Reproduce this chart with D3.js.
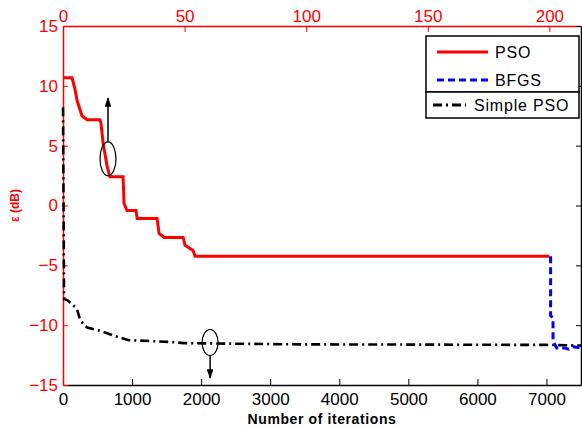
<!DOCTYPE html>
<html>
<head>
<meta charset="utf-8">
<script src="https://cdn.jsdelivr.net/npm/d3@7"></script>
<style>
  body { margin: 0; background: #fff; }
  text { font-family: "Liberation Sans", Arial, sans-serif; }
</style>
</head>
<body>
<svg id="chart" width="582" height="429"></svg>
<script>
// PSO error, plotted on the top (PSO iteration) axis
const psoIter = [0, 3.7, 4.9, 5.8, 7.8, 9.9, 15.2, 15.6, 16.5, 18.1, 19.3, 24.7, 25.1, 26.3, 30.0, 30.5, 38.7, 39.5, 41.6, 49.4, 50.2, 53.5, 54.3, 200];
const psoErr  = [10.67, 10.67, 9.75, 8.75, 7.5, 7.17, 7.17, 6.9, 5.2, 3.3, 2.4, 2.4, 0.17, -0.42, -0.42, -1.08, -1.08, -2.33, -2.67, -2.67, -3.33, -3.75, -4.25, -4.25];

// BFGS refinement after the 200 PSO iterations (top axis units)
const bfgsIter = [200.5, 200.5, 201.5, 201.5, 203, 206, 208, 210, 213];
const bfgsErr  = [-4.25, -9.2, -9.4, -11.3, -11.9, -11.9, -12.0, -11.8, -11.9];

// Simple PSO, plotted on the bottom (number of iterations) axis
const simpleIter = [0, 15, 60, 200, 250, 350, 550, 800, 950, 1550, 1750, 3300, 7000, 7500];
const simpleErr  = [8.2, -7.8, -7.9, -8.6, -9.6, -10.2, -10.5, -11.0, -11.25, -11.4, -11.5, -11.6, -11.65, -11.7];

// tick labels
const bottomTicks = [0, 1000, 2000, 3000, 4000, 5000, 6000, 7000];
const topTicks = [0, 50, 100, 150, 200];
const yTicks = [-15, -10, -5, 0, 5, 10, 15];

// legend
const legendNames = ["PSO", "BFGS", "Simple PSO"];

// annotation ellipses
const markTop = [18.5, 3.9];        // on top axis scale
const markBottom = [2130, -11.45];  // on bottom axis scale

const mLeft = 63, mRight = 581, mTop = 26, mBottom = 385;

const svg = d3.select("#chart");

const xBottom = d3.scaleLinear().domain([0, 7500]).range([mLeft, mRight]);
const xTop = d3.scaleLinear().domain([0, 213]).range([mLeft, mRight]);
const y = d3.scaleLinear().domain([-15, 15]).range([mBottom, mTop]);

svg.append("defs").append("marker")
  .attr("id", "head")
  .attr("viewBox", "0 0 10 7")
  .attr("refX", 9).attr("refY", 3.5)
  .attr("markerWidth", 6.5).attr("markerHeight", 4.5)
  .attr("markerUnits", "strokeWidth")
  .attr("orient", "auto")
  .append("path").attr("d", "M0,0 L10,3.5 L0,7 z").attr("fill", "#000");

// axes
const fontSize = "17px";
const fmt = d3.format("d");

svg.append("g")
  .attr("transform", "translate(0," + mBottom + ")")
  .attr("color", "#000")
  .call(d3.axisBottom(xBottom).tickValues(bottomTicks).tickFormat(fmt).tickSizeInner(-6).tickSizeOuter(0).tickPadding(8))
  .call(g => g.selectAll("text").attr("font-size", fontSize).attr("font-family", null));

svg.append("g")
  .attr("transform", "translate(0," + mTop + ")")
  .attr("color", "#f00")
  .call(d3.axisTop(xTop).tickValues(topTicks).tickFormat(fmt).tickSizeInner(-6).tickSizeOuter(0).tickPadding(4))
  .call(g => g.selectAll("text").attr("font-size", fontSize).attr("font-family", null));

svg.append("g")
  .attr("transform", "translate(" + mLeft + ",0)")
  .attr("color", "#f00")
  .call(d3.axisLeft(y).tickValues(yTicks).tickFormat(fmt).tickSizeInner(-5).tickSizeOuter(0).tickPadding(5))
  .call(g => g.selectAll("text").attr("font-size", fontSize).attr("font-family", null));

svg.append("g")
  .attr("transform", "translate(" + mRight + ",0)")
  .attr("color", "#000")
  .call(d3.axisRight(y).tickValues(yTicks).tickSizeInner(-5).tickSizeOuter(0).tickFormat(""));

svg.selectAll(".domain").attr("stroke-width", 1.5);

// curves
const lineTop = d3.line().x(d => xTop(d[0])).y(d => y(d[1]));
const lineBottom = d3.line().x(d => xBottom(d[0])).y(d => y(d[1]));

svg.append("path")
  .datum(simpleIter.map((v, i) => [v, simpleErr[i]]))
  .attr("d", lineBottom)
  .attr("fill", "none").attr("stroke", "#000")
  .attr("stroke-width", 2.6).attr("stroke-dasharray", "9,4,2,4");

svg.append("path")
  .datum(psoIter.map((v, i) => [v, psoErr[i]]))
  .attr("d", lineTop)
  .attr("fill", "none").attr("stroke", "#f00")
  .attr("stroke-width", 3).attr("stroke-linejoin", "miter");

svg.append("path")
  .datum(bfgsIter.map((v, i) => [v, bfgsErr[i]]))
  .attr("d", lineTop)
  .attr("fill", "none").attr("stroke", "#00f")
  .attr("stroke-width", 3).attr("stroke-dasharray", "7,4");

// annotations: ellipse + arrow pointing to the axis that applies
const cx1 = xTop(markTop[0]), cy1 = y(markTop[1]);
svg.append("ellipse").attr("cx", cx1).attr("cy", cy1).attr("rx", 8).attr("ry", 17)
  .attr("fill", "none").attr("stroke", "#000").attr("stroke-width", 1.2);
svg.append("line").attr("x1", cx1).attr("y1", cy1 - 17).attr("x2", cx1).attr("y2", 98)
  .attr("stroke", "#000").attr("stroke-width", 1.5).attr("marker-end", "url(#head)");

const cx2 = xBottom(markBottom[0]), cy2 = y(markBottom[1]);
svg.append("ellipse").attr("cx", cx2).attr("cy", cy2).attr("rx", 8).attr("ry", 13)
  .attr("fill", "none").attr("stroke", "#000").attr("stroke-width", 1.2);
svg.append("line").attr("x1", cx2).attr("y1", cy2 + 13).attr("x2", cx2).attr("y2", 378)
  .attr("stroke", "#000").attr("stroke-width", 1.5).attr("marker-end", "url(#head)");

// axis titles
svg.append("text")
  .attr("transform", "translate(19," + y(0) + ") rotate(-90)")
  .attr("text-anchor", "middle")
  .attr("font-size", "12px").attr("font-weight", "bold").attr("fill", "#f00")
  .text("ε (dB)");

svg.append("text")
  .attr("x", (mLeft + mRight) / 2).attr("y", 424)
  .attr("text-anchor", "middle")
  .attr("font-size", "14px").attr("font-weight", "bold").attr("fill", "#000")
  .attr("letter-spacing", "0.6px")
  .text("Number of iterations");

// legend: two stacked boxes as in the original figure
const lg = svg.append("g");
lg.append("rect").attr("x", 426).attr("y", 36).attr("width", 153).attr("height", 56)
  .attr("fill", "#fff").attr("stroke", "#000").attr("stroke-width", 1.5);
lg.append("rect").attr("x", 426).attr("y", 92).attr("width", 153).attr("height", 26)
  .attr("fill", "#fff").attr("stroke", "#000").attr("stroke-width", 1.5);

const legendRows = [
  { y: 52, x1: 437, x2: 488, tx: 495, color: "#f00", dash: null },
  { y: 80, x1: 437, x2: 488, tx: 495, color: "#00f", dash: "7,4" },
  { y: 105, x1: 433, x2: 466, tx: 474, color: "#000", dash: "9,4,2,4" }
];
legendRows.forEach((r, i) => {
  lg.append("line").attr("x1", r.x1).attr("x2", r.x2).attr("y1", r.y).attr("y2", r.y)
    .attr("stroke", r.color).attr("stroke-width", 3).attr("stroke-dasharray", r.dash);
  lg.append("text").attr("x", r.tx).attr("y", r.y).attr("dy", "0.35em")
    .attr("font-size", "16px").attr("letter-spacing", "0.8px").attr("fill", "#000")
    .text(legendNames[i]);
});
</script>
</body>
</html>
